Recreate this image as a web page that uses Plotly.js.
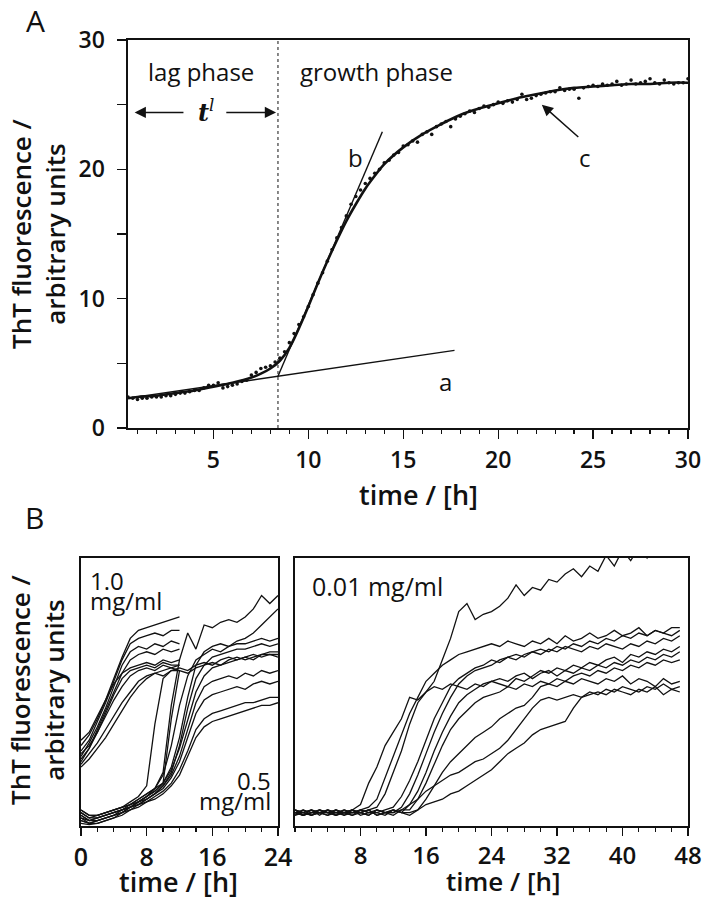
<!DOCTYPE html>
<html>
<head>
<meta charset="utf-8">
<script src="https://cdn.plot.ly/plotly-3.0.1.min.js"></script>
<style>
  body { margin: 0; background: #fff; }
  #plot { width: 702px; height: 900px; }
</style>
</head>
<body>
<div id="plot"></div>
<script>
// ---- Panel A: single ThT kinetic trace ----
const dotTimes = [
  0.5, 0.75, 1, 1.25, 1.5, 1.75, 2, 2.25,
  2.5, 2.75, 3, 3.25, 3.5, 3.75, 4, 4.25,
  4.5, 4.75, 5, 5.25, 5.5, 5.75, 6, 6.25,
  6.5, 6.75, 7, 7.25, 7.5, 7.75, 8, 8.25,
  8.5, 8.75, 9, 9.25, 9.5, 9.75, 10, 10.25,
  10.5, 10.75, 11, 11.25, 11.5, 11.75, 12, 12.25,
  12.5, 12.75, 13, 13.25, 13.5, 13.75, 14, 14.25,
  14.5, 14.75, 15, 15.25, 15.5, 15.75, 16, 16.25,
  16.5, 16.75, 17, 17.25, 17.5, 17.75, 18, 18.25,
  18.5, 18.75, 19, 19.25, 19.5, 19.75, 20, 20.25,
  20.5, 20.75, 21, 21.25, 21.5, 21.75, 22, 22.25,
  22.5, 22.75, 23, 23.25, 23.5, 23.75, 24, 24.25,
  24.5, 24.75, 25, 25.25, 25.5, 25.75, 26, 26.25,
  26.5, 26.75, 27, 27.25, 27.5, 27.75, 28, 28.25,
  28.5, 28.75, 29, 29.25, 29.5, 29.75, 30
];
const dotValues = [
  2.4, 2.3, 2.2, 2.3, 2.3, 2.4, 2.4, 2.4,
  2.5, 2.5, 2.6, 2.7, 2.7, 2.8, 2.9, 2.9,
  3.1, 3.3, 3.3, 3.5, 3.1, 3.2, 3.3, 3.4,
  3.6, 3.7, 4.1, 4.3, 4.6, 4.7, 4.8, 5.1,
  5.4, 5.9, 6.6, 7.3, 8.0, 8.6, 9.4, 10.3,
  11.2, 12.0, 12.9, 13.8, 14.7, 15.5, 16.4, 17.3,
  17.9, 18.4, 18.9, 19.3, 19.7, 20.0, 20.5, 20.7,
  21.1, 21.3, 21.8, 21.9, 22.2, 22.1, 22.7, 22.9,
  22.7, 23.3, 23.5, 23.7, 23.3, 23.9, 24.1, 24.3,
  24.5, 24.4, 24.7, 24.9, 24.8, 25.0, 25.2, 25.1,
  25.3, 25.2, 25.4, 25.8, 25.4, 25.5, 25.7, 25.8,
  25.9, 26.0, 26.0, 26.3, 26.1, 26.2, 26.2, 25.5,
  26.3, 26.4, 26.5, 26.4, 26.6, 26.5, 26.6, 26.8,
  26.5, 26.6, 26.9, 26.6, 26.7, 26.8, 27.0, 26.7,
  26.6, 26.9, 26.7, 26.6, 26.7, 26.7, 27.0
];
const fitTimes = [0.5, 1, 2, 3, 4, 5, 6, 7, 7.5, 8, 8.5, 9, 9.5, 10, 10.5, 11, 11.5, 12, 12.5, 13, 13.5, 14,
  15, 16, 17, 18, 19, 20, 21, 22, 23, 24, 25, 26, 27, 28, 29, 30];
const fitValues = [2.3, 2.4, 2.5, 2.7, 2.9, 3.2, 3.5, 3.9, 4.2, 4.6, 5.2, 6.2, 7.7, 9.4, 11.2, 12.9, 14.5, 16.0, 17.3, 18.5, 19.5, 20.4,
  21.7, 22.7, 23.5, 24.2, 24.7, 25.1, 25.5, 25.8, 26.1, 26.3, 26.4, 26.5, 26.6, 26.6, 26.7, 26.7];
const baselineTimes = [0.5, 17.7];   // line a
const baselineValues = [2.3, 6.0];
const tangentTimes = [8.4, 13.9];    // line b
const tangentValues = [4.0, 22.9];
const lagTime = 8.4;

// ---- Panel B: many wells ----
const timesHigh = [0, 1, 2, 3, 4, 5, 6, 7, 8, 9, 10, 11, 12];
const wells10 = [
  [30, 34, 40, 47, 55, 63, 70, 73, 74, 75, 76, 77, 78],
  [28, 32, 39, 46, 54, 62, 68, 70, 71, 72, 71, 73, 73],
  [26, 31, 37, 44, 52, 60, 65, 67, 66, 68, 67, 69, 68],
  [24, 29, 36, 43, 50, 57, 62, 64, 65, 64, 66, 65, 66],
  [32, 35, 41, 47, 53, 57, 59, 60, 61, 60, 62, 61, 62],
  [25, 29, 35, 42, 49, 55, 58, 59, 60, 59, 61, 60, 60],
  [22, 25, 29, 33, 38, 43, 48, 52, 55, 57, 58, 59, 60],
  [23, 27, 31, 36, 41, 46, 50, 54, 56, 57, 56, 58, 58],
  [27, 30, 35, 41, 47, 52, 56, 58, 59, 58, 60, 59, 58]
];

const timesMid = [0, 1, 2, 3, 4, 5, 6, 7, 8, 9, 10, 11, 12, 13, 14, 15, 16, 17, 18, 19, 20, 21, 22, 23, 24];
const wells05 = [
  [6, 4, 4, 5, 6, 7, 9, 11, 15, 38, 55, 58, 59, 58, 60, 61, 60, 62, 63, 62, 63, 64, 63, 64, 64],
  [5, 3, 4, 5, 6, 7, 8, 10, 12, 14, 20, 45, 62, 72, 66, 75, 74, 76, 77, 76, 78, 81, 86, 83, 86],
  [3, 2, 3, 4, 5, 6, 8, 9, 11, 13, 16, 22, 33, 48, 60, 65, 67, 68, 67, 69, 70, 72, 75, 78, 81],
  [4, 2, 3, 4, 5, 6, 7, 9, 11, 14, 19, 30, 45, 56, 62, 64, 66, 65, 67, 68, 68, 69, 70, 69, 70],
  [2, 1, 2, 3, 4, 5, 7, 8, 10, 12, 15, 20, 30, 44, 55, 60, 63, 64, 65, 66, 66, 67, 68, 67, 68],
  [5, 3, 3, 4, 5, 6, 7, 9, 11, 13, 16, 21, 29, 40, 50, 56, 59, 60, 61, 62, 63, 62, 64, 65, 65],
  [3, 1, 2, 3, 4, 5, 7, 8, 10, 12, 15, 19, 26, 36, 46, 52, 54, 55, 56, 55, 57, 56, 58, 57, 58],
  [4, 2, 2, 3, 4, 6, 7, 9, 10, 12, 14, 18, 24, 33, 42, 47, 49, 50, 51, 52, 51, 53, 54, 53, 54],
  [2, 1, 1, 2, 3, 5, 6, 8, 9, 11, 13, 16, 21, 28, 36, 40, 42, 43, 44, 45, 46, 46, 47, 48, 48],
  [1, 0.5, 1, 2, 3, 4, 6, 7, 9, 10, 12, 15, 19, 26, 33, 37, 39, 40, 41, 42, 43, 44, 45, 45, 46],
  [6, 4, 4, 5, 6, 7, 8, 10, 12, 14, 16, 40, 58, 57, 59, 60, 61, 60, 62, 63, 62, 63, 64, 64, 63]
];

const timesLow = [0, 1, 2, 3, 4, 5, 6, 7, 8, 9, 10, 11, 12, 13, 14, 15, 16, 17, 18, 19, 20, 21, 22, 23,
  24, 25, 26, 27, 28, 29, 30, 31, 32, 33, 34, 35, 36, 37, 38, 39, 40, 41, 42, 43, 44, 45, 46, 47];
const wells001 = [
  [6, 5, 6, 4, 6, 5, 5, 6, 8, 16, 22, 30, 35, 40, 48, 47, 50, 54, 62, 70, 80, 83, 77, 79,
   80, 82, 85, 90, 86, 89, 88, 92, 91, 94, 96, 93, 97, 95, 101, 97, 103, 99, 104, 100, 106, 103, 105, 107],
  [5, 4, 5, 6, 5, 4, 5, 5, 6, 7, 10, 18, 26, 34, 42, 48, 54, 57, 60, 62, 64, 65, 66, 67,
   68, 67, 69, 68, 67, 69, 68, 70, 68, 71, 69, 70, 72, 70, 71, 73, 71, 72, 74, 71, 73, 72, 74, 74],
  [4, 6, 5, 5, 4, 6, 5, 4, 5, 6, 7, 12, 20, 28, 38, 46, 50, 52, 51, 53, 52, 51, 53, 52,
   54, 53, 52, 55, 54, 56, 58, 57, 59, 58, 60, 59, 61, 60, 62, 63, 61, 64, 63, 65, 64, 66, 65, 67],
  [5, 5, 4, 6, 5, 6, 4, 5, 6, 5, 5, 6, 7, 11, 17, 24, 32, 40, 46, 52, 55, 57, 59, 60,
   62, 61, 63, 64, 63, 65, 66, 65, 67, 66, 68, 67, 69, 68, 70, 69, 71, 70, 72, 71, 73, 72, 71, 73],
  [6, 4, 5, 5, 6, 4, 5, 6, 5, 4, 6, 5, 5, 7, 12, 19, 27, 35, 42, 48, 53, 56, 58, 59,
   60, 62, 63, 62, 64, 65, 64, 66, 65, 67, 66, 65, 67, 66, 68, 67, 66, 68, 67, 69, 68, 70, 69, 71],
  [5, 6, 4, 5, 5, 6, 5, 4, 6, 5, 5, 4, 6, 5, 8, 13, 20, 28, 35, 41, 46, 49, 51, 53,
   54, 55, 54, 56, 57, 55, 57, 58, 56, 58, 57, 59, 58, 60, 59, 61, 60, 62, 61, 63, 62, 64, 63, 65],
  [4, 5, 6, 5, 4, 5, 6, 5, 5, 4, 6, 5, 4, 6, 6, 10, 16, 23, 30, 36, 40, 43, 46, 48,
   49, 50, 52, 51, 53, 52, 54, 53, 52, 54, 53, 55, 54, 53, 55, 54, 56, 53, 55, 54, 52, 55, 53, 54],
  [5, 4, 5, 6, 5, 5, 4, 6, 5, 6, 4, 5, 6, 5, 4, 6, 10, 15, 20, 24, 27, 30, 33, 35,
   37, 40, 42, 44, 45, 48, 52, 53, 55, 54, 56, 57, 56, 58, 57, 59, 58, 60, 59, 61, 60, 62, 61, 62],
  [6, 5, 4, 5, 6, 5, 5, 6, 4, 5, 6, 5, 5, 6, 8, 10, 13, 15, 17, 19, 20, 22, 24, 25,
   27, 29, 32, 36, 40, 44, 47, 48, 47, 48, 49, 48, 50, 49, 51, 50, 52, 51, 50, 52, 51, 53, 51, 52],
  [5, 4, 6, 5, 5, 4, 6, 5, 5, 6, 4, 5, 6, 5, 5, 6, 8, 9, 10, 12, 13, 15, 17, 19,
   21, 24, 27, 29, 31, 34, 36, 37, 38, 39, 44, 48, 49, 50, 49, 51, 50, 49, 51, 50, 52, 49, 51, 50]
];

// pixel helpers for domains (page is 702 x 900)
const W = 702, H = 900;
const px = v => v / W;
const py = v => 1 - v / H;

const FONT = 'Open Sans, sans-serif';
const black = '#111';

const traces = [];

// Panel A
traces.push({
  x: dotTimes, y: dotValues, xaxis: 'x', yaxis: 'y',
  mode: 'markers', type: 'scatter',
  marker: { color: black, size: 3.6 }
});
traces.push({
  x: fitTimes, y: fitValues, xaxis: 'x', yaxis: 'y',
  mode: 'lines', type: 'scatter',
  line: { color: black, width: 2.6, shape: 'spline' }
});
traces.push({
  x: baselineTimes, y: baselineValues, xaxis: 'x', yaxis: 'y',
  mode: 'lines', line: { color: black, width: 1.4 }
});
traces.push({
  x: tangentTimes, y: tangentValues, xaxis: 'x', yaxis: 'y',
  mode: 'lines', line: { color: black, width: 1.4 }
});
traces.push({
  x: [lagTime, lagTime], y: [0, 30], xaxis: 'x', yaxis: 'y',
  mode: 'lines', line: { color: black, width: 1, dash: 'dot' }
});

// Panel B, left (1.0 and 0.5 mg/ml)
wells10.forEach(w => traces.push({
  x: timesHigh, y: w, xaxis: 'x2', yaxis: 'y2',
  mode: 'lines', line: { color: black, width: 1.3 }
}));
wells05.forEach(w => traces.push({
  x: timesMid, y: w, xaxis: 'x2', yaxis: 'y2',
  mode: 'lines', line: { color: black, width: 1.3 }
}));

// Panel B, right (0.01 mg/ml)
wells001.forEach(w => traces.push({
  x: timesLow, y: w, xaxis: 'x3', yaxis: 'y3',
  mode: 'lines', line: { color: black, width: 1.3 }
}));

function frameAxis(extra) {
  return Object.assign({
    showline: true, mirror: true, linecolor: black, linewidth: 1.6,
    showgrid: false, zeroline: false,
    ticks: 'outside', tickcolor: black, tickwidth: 1.3,
    tickfont: { family: FONT, size: 23, weight: 600, color: black }
  }, extra);
}

// text annotation helper (anchors always explicit)
function label(x, y, text, size, extra) {
  return Object.assign({
    xref: 'paper', yref: 'paper', x: px(x), y: py(y), text: text,
    showarrow: false, xanchor: 'center', yanchor: 'middle',
    font: { size: size, family: FONT, color: black }
  }, extra);
}

function arrow(x, y, ax, ay) {
  return {
    xref: 'x', yref: 'y', x: x, y: y, ax: ax, ay: ay, axref: 'x', ayref: 'y',
    text: '', showarrow: true, arrowhead: 2, arrowsize: 1.5, arrowwidth: 1.5, arrowcolor: black
  };
}

const titleFont = (size) => ({ size: size, family: FONT, weight: 600, color: black });

const layout = {
  width: W, height: H,
  margin: { l: 0, r: 0, t: 0, b: 0 },
  paper_bgcolor: '#fff', plot_bgcolor: '#fff',
  showlegend: false,
  font: { family: FONT, color: black },

  xaxis: frameAxis({
    domain: [px(128), px(688)], anchor: 'y', range: [0.5, 30],
    tickmode: 'array', tickvals: [5, 10, 15, 20, 25, 30], ticklen: 9,
    ticklabelstandoff: 2,
    minor: { dtick: 1, tick0: 0, ticks: 'outside', ticklen: 4, tickcolor: black, tickwidth: 1.2 }
  }),
  yaxis: frameAxis({
    domain: [py(428), py(40)], anchor: 'x', range: [0, 30],
    tickmode: 'array', tickvals: [0, 10, 20, 30], ticklen: 9,
    ticklabelstandoff: 8,
    minor: { dtick: 5, tick0: 0, ticks: 'outside', ticklen: 9, tickcolor: black, tickwidth: 1.2 }
  }),

  xaxis2: frameAxis({
    domain: [px(81), px(278)], anchor: 'y2', range: [0, 24],
    tickmode: 'array', tickvals: [0, 8, 16, 24], ticklen: 8,
    tickfont: { family: FONT, size: 25, weight: 600, color: black },
    minor: { dtick: 2, tick0: 0, ticks: 'outside', ticklen: 4, tickcolor: black, tickwidth: 1.2 }
  }),
  yaxis2: frameAxis({
    domain: [py(826), py(558)], anchor: 'x2', range: [0, 100],
    ticks: '', showticklabels: false
  }),

  xaxis3: frameAxis({
    domain: [px(295), px(688)], anchor: 'y3', range: [0, 48],
    tickmode: 'array', tickvals: [8, 16, 24, 32, 40, 48], ticklen: 8,
    tickfont: { family: FONT, size: 24, weight: 600, color: black },
    minor: { dtick: 2, tick0: 0, ticks: 'outside', ticklen: 4, tickcolor: black, tickwidth: 1.2 }
  }),
  yaxis3: frameAxis({
    domain: [py(826), py(558)], anchor: 'x3', range: [0, 100],
    ticks: '', showticklabels: false
  }),

  annotations: [
    // panel letters
    label(35, 21, 'A', 30),
    label(34, 517, 'B', 30),

    // axis titles
    label(38, 234, 'ThT fluorescence /<br>arbitrary units', 26, { textangle: -90, font: titleFont(26) }),
    label(419, 494, 'time / [h]', 27, { font: titleFont(27) }),
    label(37, 690, 'ThT fluorescence /<br>arbitrary units', 26, { textangle: -90, font: titleFont(26) }),
    label(178, 881, 'time / [h]', 27, { font: titleFont(27) }),
    label(503, 881, 'time / [h]', 26, { font: titleFont(26) }),

    // panel A labels
    label(201, 71, 'lag phase', 24),
    label(298, 72, 'growth phase', 24, { xanchor: 'left' }),
    { xref: 'x', yref: 'y', x: 4.6, y: 24.5, text: '<i><b>t</b><sup>l</sup></i>', showarrow: false,
      xanchor: 'center', yanchor: 'middle',
      font: { size: 24, family: 'DejaVu Serif, serif', color: black } },
    arrow(0.85, 24.4, 3.5, 24.4),
    arrow(8.3, 24.4, 5.6, 24.4),
    arrow(22.3, 25.0, 24.3, 22.4),
    { xref: 'x', yref: 'y', x: 24.6, y: 20.9, text: 'c', showarrow: false,
      xanchor: 'center', yanchor: 'middle', font: { size: 24, family: FONT, color: black } },
    { xref: 'x', yref: 'y', x: 12.5, y: 20.9, text: 'b', showarrow: false,
      xanchor: 'center', yanchor: 'middle', font: { size: 24, family: FONT, color: black } },
    { xref: 'x', yref: 'y', x: 17.2, y: 3.6, text: 'a', showarrow: false,
      xanchor: 'center', yanchor: 'middle', font: { size: 24, family: FONT, color: black } },

    // panel B labels
    label(88, 580, '1.0', 24, { xanchor: 'left' }),
    label(88, 600, 'mg/ml', 24, { xanchor: 'left' }),
    label(273, 780, '0.5', 24, { xanchor: 'right' }),
    label(273, 800, 'mg/ml', 24, { xanchor: 'right' }),
    label(310, 586, '0.01 mg/ml', 25, { xanchor: 'left' })
  ]
};

Plotly.newPlot('plot', traces, layout, { staticPlot: true, displayModeBar: false });
</script>
</body>
</html>
